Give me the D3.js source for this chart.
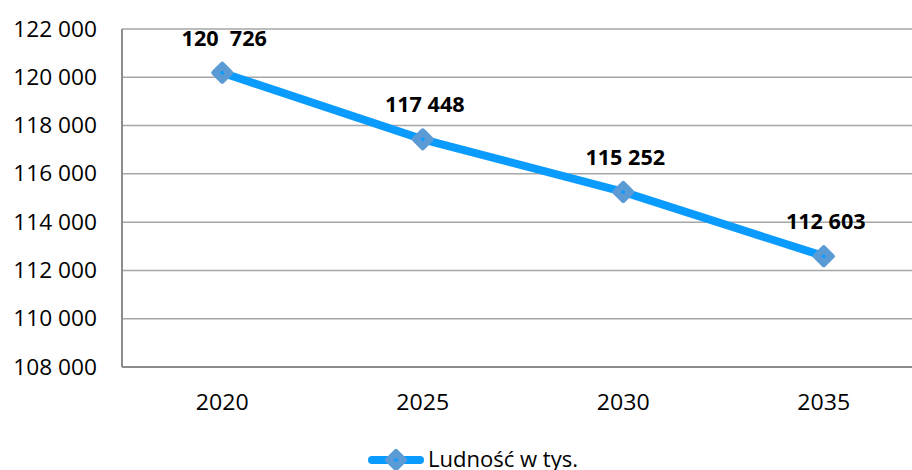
<!DOCTYPE html>
<html>
<head>
<meta charset="utf-8">
<script src="https://cdn.jsdelivr.net/npm/d3@7"></script>
<style>
  body { margin: 0; background: #fff; }
  text { font-family: "Open Sans", "Liberation Sans", sans-serif; fill: #000; }
</style>
</head>
<body>
<svg id="chart" width="912" height="470"></svg>
<script>
// chart data
var years = ["2020", "2025", "2030", "2035"];
var population = [120190, 117430, 115250, 112590];   // plotted position
var valueLabels = ["120  726", "117 448", "115 252", "112 603"];
var yTicks = [108000, 110000, 112000, 114000, 116000, 118000, 120000, 122000];
var seriesName = "Ludność w tys.";

var svg = d3.select("#chart");
var plotLeft = 122, plotRight = 924, plotTop = 29, plotBottom = 367;
var lineColor = "#0a9bff", markerColor = "#5b9bd5";

var x = d3.scaleBand().domain(years).range([plotLeft, plotRight]);
var y = d3.scaleLinear().domain([108000, 122000]).range([plotBottom, plotTop]);

function fmt(v) {
    // "122 000" style
    return d3.format(",")(v).replace(/,/g, " ");
}

// gridlines
svg.append("g")
    .selectAll("line")
    .data(yTicks.slice(1))
    .enter()
    .append("line")
    .attr("x1", plotLeft).attr("x2", 912)
    .attr("y1", function(d){ return y(d); })
    .attr("y2", function(d){ return y(d); })
    .attr("stroke", "#a6a6a6")
    .attr("stroke-width", 1.5);

// axes lines
svg.append("line")
    .attr("x1", plotLeft).attr("x2", plotLeft)
    .attr("y1", plotTop).attr("y2", plotBottom)
    .attr("stroke", "#8c8c8c").attr("stroke-width", 2);
svg.append("line")
    .attr("x1", plotLeft).attr("x2", 912)
    .attr("y1", plotBottom).attr("y2", plotBottom)
    .attr("stroke", "#8c8c8c").attr("stroke-width", 2);

// y tick labels
svg.append("g")
    .selectAll("text")
    .data(yTicks)
    .enter()
    .append("text")
    .attr("transform", function(d){ return "translate(97," + (y(d) + 7.5) + ") scale(1.08,1)"; })
    .attr("text-anchor", "end")
    .attr("font-size", "21px")
    .text(fmt);

// x tick labels
svg.append("g")
    .selectAll("text")
    .data(years)
    .enter()
    .append("text")
    .attr("transform", function(d){ return "translate(" + (x(d) + x.bandwidth()/2) + ",410) scale(1.1,1)"; })
    .attr("text-anchor", "middle")
    .attr("font-size", "21px")
    .text(function(d){ return d; });

var pts = years.map(function(d, i){
    return [x(d) + x.bandwidth()/2, y(population[i])];
});

// the series line
svg.append("path")
    .datum(pts)
    .attr("d", d3.line())
    .attr("fill", "none")
    .attr("stroke", lineColor)
    .attr("stroke-width", 8);

function diamond(g, cx, cy) {
    g.append("rect")
        .attr("x", -8.5).attr("y", -8.5)
        .attr("width", 17).attr("height", 17)
        .attr("rx", 2.5)
        .attr("transform", "translate(" + cx + "," + cy + ") rotate(45)")
        .attr("fill", markerColor);
    g.append("circle")
        .attr("cx", cx).attr("cy", cy).attr("r", 1.8)
        .attr("fill", lineColor);
}

var markers = svg.append("g");
pts.forEach(function(p){ diamond(markers, p[0], p[1]); });

// data labels
svg.append("g")
    .selectAll("text")
    .data(valueLabels)
    .enter()
    .append("text")
    .attr("transform", function(d, i){ return "translate(" + (pts[i][0] + 2) + "," + (pts[i][1] - 27) + ") scale(1.03,1)"; })
    .attr("text-anchor", "middle")
    .attr("font-size", "21px")
    .attr("font-weight", "bold")
    .style("white-space", "pre")
    .text(function(d){ return d; });

// legend
var lg = svg.append("g");
lg.append("line")
    .attr("x1", 372).attr("x2", 420)
    .attr("y1", 460).attr("y2", 460)
    .attr("stroke", lineColor).attr("stroke-width", 8)
    .attr("stroke-linecap", "round");
diamond(lg, 396, 460);
lg.append("text")
    .attr("transform", "translate(428,467) scale(1.05,1)")
    .attr("font-size", "21px")
    .text(seriesName);
</script>
</body>
</html>
